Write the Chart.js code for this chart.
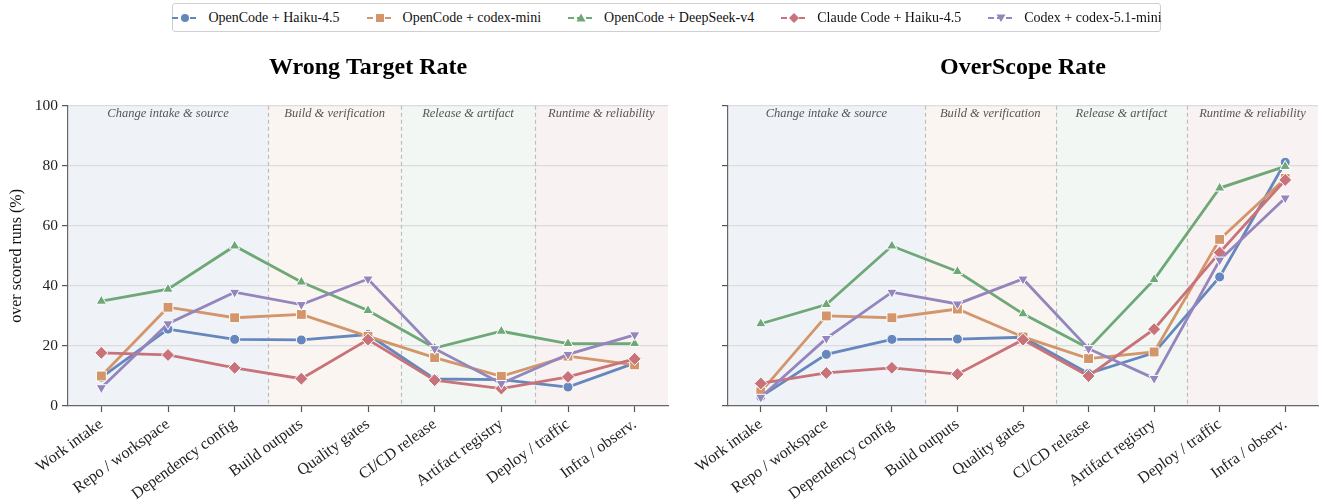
<!DOCTYPE html>
<html>
<head>
<meta charset="utf-8">
<script src="https://cdn.jsdelivr.net/npm/chart.js@4.4.1/dist/chart.umd.min.js"></script>
<style>
  html, body { margin:0; padding:0; width:1323px; height:502px; overflow:hidden; background:#fff; }
  .wrap { position:absolute; top:0; height:502px; }
  #legend { position:absolute; left:172px; top:3px; width:989px; height:29px; border:1px solid #cfcfcf; border-radius:3px;
    display:flex; align-items:center; justify-content:center; gap:26px; font-family:"Liberation Serif", serif; font-size:14px; color:#111; background:#fff; z-index:5; box-sizing:border-box; }
  .item { display:flex; align-items:center; gap:9px; white-space:nowrap; }
</style>
</head>
<body>
<div id="legend"></div>
<div class="wrap" style="left:0;width:680px;"><canvas id="c1"></canvas></div>
<div class="wrap" style="left:680px;width:646px;"><canvas id="c2"></canvas></div>
<script>
// ---- data ----
const categories = ['Work intake','Repo / workspace','Dependency config','Build outputs','Quality gates','CI/CD release','Artifact registry','Deploy / traffic','Infra / observ.'];
const seriesNames = ['OpenCode + Haiku-4.5','OpenCode + codex-mini','OpenCode + DeepSeek-v4','Claude Code + Haiku-4.5','Codex + codex-5.1-mini'];

// Wrong Target Rate (%)
const wrongOcHaiku     = [9.5, 25.6, 22.2, 22.0, 23.8, 9.0, 8.8, 6.3, 14.3];
const wrongOcCodexMini = [10.0, 32.9, 29.4, 30.5, 23.2, 16.1, 9.9, 16.6, 13.7];
const wrongOcDeepSeek  = [34.9, 38.9, 53.3, 41.3, 31.8, 19.3, 24.9, 20.8, 20.8];
const wrongCcHaiku     = [17.7, 17.0, 12.7, 9.1, 22.1, 8.6, 5.8, 9.7, 15.7];
const wrongCodex51     = [6.1, 27.4, 37.9, 33.8, 42.3, 19.1, 7.5, 17.2, 23.7];

// OverScope Rate (%)
const overOcHaiku     = [3.1, 17.2, 22.2, 22.3, 22.9, 10.8, 17.7, 43.0, 81.2];
const overOcCodexMini = [4.7, 30.0, 29.4, 32.3, 23.0, 15.8, 18.0, 55.5, 75.8];
const overOcDeepSeek  = [27.4, 33.8, 53.3, 44.8, 30.7, 19.2, 42.1, 72.6, 79.8];
const overCcHaiku     = [7.5, 11.0, 12.7, 10.6, 22.1, 10.0, 25.6, 51.1, 75.3];
const overCodex51     = [2.9, 22.5, 37.9, 34.0, 42.3, 19.1, 9.2, 48.6, 69.3];

const yTicks = [0, 20, 40, 60, 80, 100];

// category groups (index ranges)
const groupLabels = ['Change intake & source','Build & verification','Release & artifact','Runtime & reliability'];
const groupStart  = [0, 3, 5, 7];
const groupEnd    = [2, 4, 6, 8];

// ---- styles ----
const colors  = ['#6587bd','#d3956a','#6fa877','#c8737a','#9585bd'];
const shapes  = ['circle','rect','triangle','rectRot','triangle'];
const rots    = [0, 0, 0, 0, 180];
const radii   = [5, 7, 6, 6.5, 6];
const bandColors = ['#eff3f8','#fbf5f2','#f2f7f3','#f9f2f2'];
const FONT = '"Liberation Serif", "Times New Roman", serif';

// legend (HTML)
const legend = document.getElementById('legend');
seriesNames.forEach((n, i) => {
  const it = document.createElement('div'); it.className = 'item';
  const c = colors[i];
  let mk = '';
  if (shapes[i] === 'circle') mk = `<circle cx="14" cy="7" r="4" fill="${c}"/>`;
  else if (shapes[i] === 'rect') mk = `<rect x="10" y="3" width="8" height="8" fill="${c}"/>`;
  else if (shapes[i] === 'rectRot') mk = `<polygon points="14,2 19,7 14,12 9,7" fill="${c}"/>`;
  else if (rots[i] === 180) mk = `<polygon points="9.5,3.5 18.5,3.5 14,11" fill="${c}"/>`;
  else mk = `<polygon points="14,2.5 18.5,10.5 9.5,10.5" fill="${c}"/>`;
  it.innerHTML = `<svg width="28" height="14"><line x1="1" y1="7" x2="27" y2="7" stroke="${c}" stroke-width="2.2" stroke-dasharray="6,3"/>${mk}</svg><span>${n}</span>`;
  legend.appendChild(it);
});

const bandPlugin = {
  id: 'bands',
  beforeDraw(chart) {
    const { ctx, chartArea: a, scales: { x } } = chart;
    const half = (x.getPixelForValue(1) - x.getPixelForValue(0)) / 2;
    ctx.save();
    groupLabels.forEach((lab, g) => {
      const l = g === 0 ? a.left : x.getPixelForValue(groupStart[g]) - half;
      const r = g === groupLabels.length - 1 ? a.right : x.getPixelForValue(groupEnd[g]) + half;
      ctx.fillStyle = bandColors[g];
      ctx.fillRect(l, a.top, r - l, a.bottom - a.top);
    });
    ctx.restore();
  },
  beforeDatasetsDraw(chart) {
    const { ctx, chartArea: a, scales: { x } } = chart;
    const half = (x.getPixelForValue(1) - x.getPixelForValue(0)) / 2;
    ctx.save();
    ctx.strokeStyle = '#bdbdbd'; ctx.lineWidth = 1.2; ctx.setLineDash([4, 3]);
    for (let g = 1; g < groupLabels.length; g++) {
      const xx = Math.round(x.getPixelForValue(groupStart[g]) - half) + 0.5;
      ctx.beginPath(); ctx.moveTo(xx, a.top); ctx.lineTo(xx, a.bottom); ctx.stroke();
    }
    ctx.setLineDash([]);
    ctx.fillStyle = '#555'; ctx.font = 'italic 12.5px ' + FONT;
    ctx.textAlign = 'center'; ctx.textBaseline = 'middle';
    groupLabels.forEach((lab, g) => {
      const l = g === 0 ? a.left : x.getPixelForValue(groupStart[g]) - half;
      const r = g === groupLabels.length - 1 ? a.right : x.getPixelForValue(groupEnd[g]) + half;
      ctx.fillText(lab, (l + r) / 2, a.top + 8);
    });
    ctx.restore();
  }
};

function makeChart(id, title, arrays, showY, yWidth, padRight) {
  const datasets = arrays.map((arr, i) => ({
    label: seriesNames[i], data: arr,
    borderColor: colors[i], backgroundColor: colors[i],
    borderWidth: 2.8, pointStyle: shapes[i], pointRotation: rots[i],
    pointRadius: radii[i], pointHoverRadius: radii[i],
    pointBorderColor: '#ffffff', pointBorderWidth: 1,
    tension: 0, order: arrays.length - 1 - i
  }));
  return new Chart(document.getElementById(id), {
    type: 'line',
    data: { labels: categories, datasets },
    plugins: [bandPlugin],
    options: {
      responsive: true, maintainAspectRatio: false, animation: false,
      layout: { padding: { top: 53, left: 0, right: padRight, bottom: 0 } },
      plugins: {
        legend: { display: false }, tooltip: { enabled: false },
        title: { display: true, text: title, fullSize: false, color: '#000',
          font: { family: FONT, size: 24, weight: 'bold' }, padding: { top: 0, bottom: 24 } }
      },
      scales: {
        x: {
          offset: true,
          grid: { drawOnChartArea: false, drawTicks: true, tickLength: 6, tickColor: '#555', tickWidth: 1.2 },
          border: { display: true, color: '#666', width: 1.2 },
          ticks: { autoSkip: false, minRotation: 36, maxRotation: 36, color: '#222', padding: 3,
            font: { family: FONT, size: 16 } },
          afterFit(s) { s.height = 96; }
        },
        y: {
          min: 0, max: 100,
          afterBuildTicks(s) { s.ticks = yTicks.map(v => ({ value: v })); },
          grid: { color: (c) => c.tick && c.tick.value === 0 ? 'rgba(0,0,0,0)' : '#dcdcdc', lineWidth: 1.2,
            drawTicks: true, tickLength: 6, tickColor: '#555', tickWidth: 1.2 },
          border: { display: true, color: '#666', width: 1.2 },
          ticks: { color: '#222', padding: 4, font: { family: FONT, size: 15.5 },
            callback: (v) => showY ? v : '' },
          title: { display: showY, text: 'over scored runs (%)', color: '#111',
            font: { family: FONT, size: 16 }, padding: { top: 7, bottom: 0 } },
          afterFit(s) { s.width = yWidth; }
        }
      }
    }
  });
}

makeChart('c1', 'Wrong Target Rate',
  [wrongOcHaiku, wrongOcCodexMini, wrongOcDeepSeek, wrongCcHaiku, wrongCodex51], true, 68, 12);
makeChart('c2', 'OverScope Rate',
  [overOcHaiku, overOcCodexMini, overOcDeepSeek, overCcHaiku, overCodex51], false, 48, 0);
</script>
</body>
</html>
